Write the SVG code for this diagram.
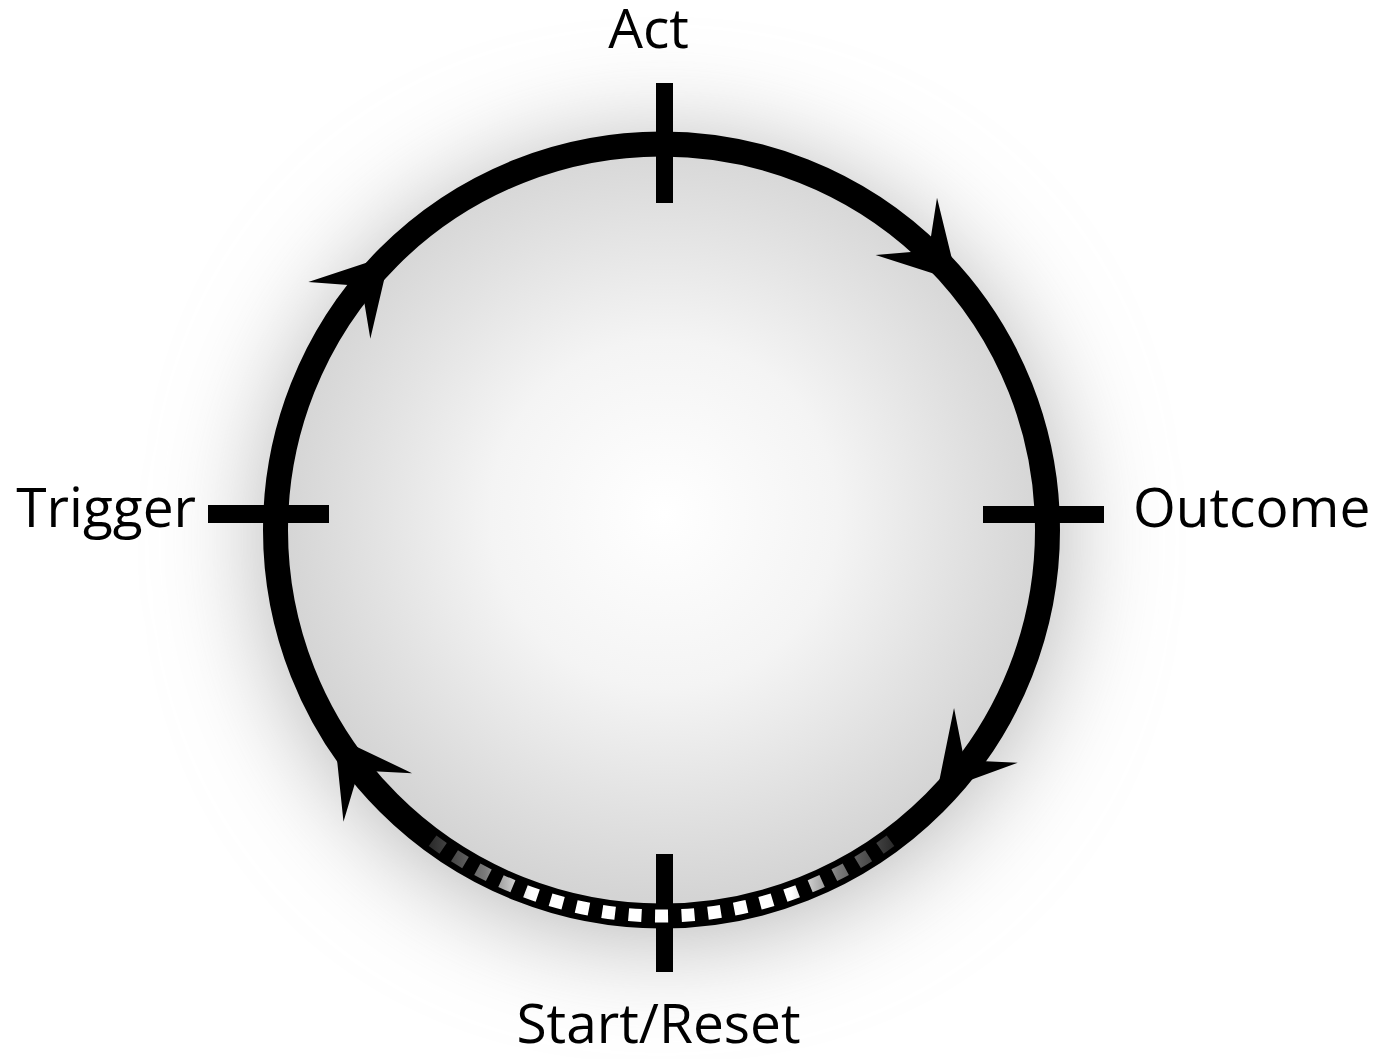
<svg xmlns="http://www.w3.org/2000/svg" width="1379" height="1059" viewBox="0 0 1379 1059">
  <style>
    .lbl { font-family: "Open Sans", "Liberation Sans", sans-serif; font-size: 55px; fill: #000; }
    .tick { fill: #000; }
    .ring { fill: none; stroke: #000; stroke-width: 25; }
    .arrow { fill: #000; }
  </style>
  <defs>
    <radialGradient id="bg" cx="664" cy="514" r="386" gradientUnits="userSpaceOnUse">
      <stop offset="0" stop-color="#ffffff"/>
      <stop offset="0.45" stop-color="#f4f4f4"/>
      <stop offset="1" stop-color="#d4d4d4"/>
    </radialGradient>
    <filter id="halo" x="-40%" y="-40%" width="180%" height="180%">
      <feGaussianBlur stdDeviation="55"/>
    </filter>
    <linearGradient id="dashfade" x1="429" y1="0" x2="894" y2="0" gradientUnits="userSpaceOnUse">
      <stop offset="0" stop-color="#2a2a2a"/>
      <stop offset="0.07" stop-color="#555555"/>
      <stop offset="0.12" stop-color="#7a7a7a"/>
      <stop offset="0.17" stop-color="#bbbbbb"/>
      <stop offset="0.22" stop-color="#ffffff"/>
      <stop offset="0.78" stop-color="#ffffff"/>
      <stop offset="0.83" stop-color="#bbbbbb"/>
      <stop offset="0.88" stop-color="#7a7a7a"/>
      <stop offset="0.93" stop-color="#555555"/>
      <stop offset="1" stop-color="#2a2a2a"/>
    </linearGradient>
    <path id="head" d="M 20 0 L -55 42 L -22 0 L -55 -42 Z"/>
  </defs>

  <rect x="0" y="0" width="1379" height="1059" fill="#ffffff"/>
  <g id="background">
    <circle cx="662" cy="540" r="395" fill="#b0b0b0" filter="url(#halo)"/>
    <circle cx="661.5" cy="530" r="386" fill="url(#bg)"/>
  </g>

  <g id="connectors">
    <circle class="ring" cx="661.5" cy="530" r="386"/>
    <use href="#head" class="arrow" transform="translate(943.8 266.7) rotate(47)"/>
    <use href="#head" class="arrow" transform="translate(376.4 269.7) rotate(-47.6)"/>
    <use href="#head" class="arrow" transform="translate(346.1 752.5) rotate(234.8)"/>
    <use href="#head" class="arrow" transform="translate(950 777) rotate(130.7)"/>
  </g>

  <g id="node-act">
    <rect class="tick" x="656" y="83" width="17" height="120"/>
    <text class="lbl" x="648.5" y="48" text-anchor="middle">Act</text>
  </g>
  <g id="node-outcome">
    <rect class="tick" x="983" y="506" width="121" height="17"/>
    <text class="lbl" x="1133" y="527">Outcome</text>
  </g>
  <g id="node-trigger">
    <rect class="tick" x="208" y="505" width="121" height="18"/>
    <text class="lbl" x="196" y="527" text-anchor="end">Trigger</text>
  </g>
  <g id="node-start">
    <rect class="tick" x="656" y="854" width="17" height="118"/>
    <text class="lbl" x="658.5" y="1043" text-anchor="middle">Start/Reset</text>
  </g>

  <g id="reset-dashes">
    <path d="M 429.2 838.3 A 386 386 0 0 0 893.8 838.3" fill="none" stroke="url(#dashfade)" stroke-width="13" stroke-dasharray="13 13.5" stroke-dashoffset="-4.25"/>
  </g>
</svg>
